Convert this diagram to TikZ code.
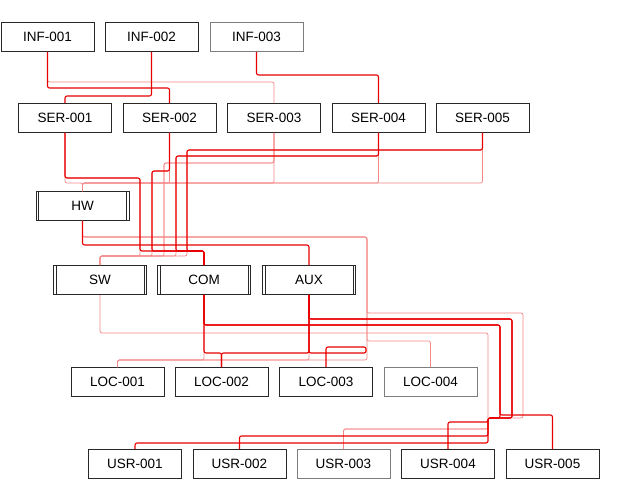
\documentclass[tikz,border=0pt]{standalone}
\usepackage{fontspec}
\setmainfont{Liberation Sans}
\definecolor{linkcolor0001}{RGB}{232,0,0}
\definecolor{linkcolor0002}{RGB}{245,135,135}
\definecolor{boxcolor0001}{RGB}{40,40,40}
\definecolor{boxcolor0002}{RGB}{125,125,125}

\begin{document}
\begin{tikzpicture}[yscale=-1
,box/.style={draw=boxcolor0001,fill=white,line width=0.9pt,minimum width=93pt,minimum height=29pt,inner sep=0pt,font=\fontsize{13.5}{15}\selectfont}
,greybox/.style={box,draw=boxcolor0002}
,sysbox/.style={box,path picture={
  \draw[boxcolor0001,line width=0.8pt] ([xshift=2.5pt]path picture bounding box.north west) -- ([xshift=2.5pt]path picture bounding box.south west);
  \draw[boxcolor0001,line width=0.8pt] ([xshift=-2.5pt]path picture bounding box.north east) -- ([xshift=-2.5pt]path picture bounding box.south east);}}
,lnmain/.style={color=linkcolor0001,line width=1.1pt,rounded corners=2pt}
,lnweak/.style={color=linkcolor0002,line width=0.7pt,rounded corners=2pt}
]
\useasboundingbox (0pt,0pt) rectangle (634pt,483pt);
% nodes
\node[box] (inf1) at (47.5pt,37pt) {INF-001};
\node[box] (inf2) at (151.5pt,37pt) {INF-002};
\node[greybox] (inf3) at (256.5pt,37pt) {INF-003};
\node[box] (ser1) at (65pt,118pt) {SER-001};
\node[box] (ser2) at (169.5pt,118pt) {SER-002};
\node[box] (ser3) at (274pt,118pt) {SER-003};
\node[box] (ser4) at (378.5pt,118pt) {SER-004};
\node[box] (ser5) at (482.5pt,118pt) {SER-005};
\node[sysbox] (hw) at (82.5pt,206pt) {HW};
\node[sysbox] (sw) at (100pt,280pt) {SW};
\node[sysbox] (com) at (204pt,280pt) {COM};
\node[sysbox] (aux) at (309pt,280pt) {AUX};
\node[box] (loc1) at (117.5pt,382pt) {LOC-001};
\node[box] (loc2) at (221.5pt,382pt) {LOC-002};
\node[box] (loc3) at (326pt,382pt) {LOC-003};
\node[greybox] (loc4) at (430.5pt,382pt) {LOC-004};
\node[box] (usr1) at (135pt,464pt) {USR-001};
\node[box] (usr2) at (239.5pt,464pt) {USR-002};
\node[greybox] (usr3) at (343.5pt,464pt) {USR-003};
\node[box] (usr4) at (448pt,464pt) {USR-004};
\node[box] (usr5) at (552.5pt,464pt) {USR-005};
% weak links
\draw[lnweak] (inf1.south) |- (ser3.north |- 0,82pt) -- (ser3.north);
\foreach \s in {ser1,ser2,ser3,ser4,ser5}
  \draw[lnweak] (\s.south) |- (hw.north |- 0,183pt) -- (hw.north);
\foreach \s/\bx/\ly in {ser1/140/178,ser2/152/171,ser3/164/163,ser4/176/156,ser5/187/150}
  \draw[lnweak] (\s.south) |- (\bx pt,\ly pt) |- (sw.north |- 0,256pt) -- (sw.north);
\draw[lnweak] (ser3.south) |- (164pt,163pt) |- (com.north |- 0,251pt) -- (com.north);
\draw[lnweak] (hw.south) |- (367pt,237pt) |- (loc4.north |- 0,341pt) -- (loc4.north);
\draw[lnweak] (hw.south) |- (367pt,237pt) |- (loc1.north |- 0,360pt) -- (loc1.north);
\draw[lnweak] (hw.south) |- (367pt,237pt) |- (523pt,313pt) |- (488pt,418pt) |- (usr3.north |- 0,429pt) -- (usr3.north);
\draw[lnweak] (com.south) |- (loc1.north |- 0,360pt) -- (loc1.north);
\draw[lnweak] (aux.south) |- (loc1.north |- 0,360pt) -- (loc1.north);
\draw[lnweak] (sw.south) |- (488pt,333pt) |- (usr3.north |- 0,429pt) -- (usr3.north);
% main links
\draw[lnmain] (inf1.south) |- (ser2.north |- 0,88pt) -- (ser2.north);
\draw[lnmain] (inf2.south) |- (ser1.north |- 0,96pt) -- (ser1.north);
\draw[lnmain] (inf3.south) |- (ser4.north |- 0,75pt) -- (ser4.north);
\foreach \s/\bx/\ly in {ser1/140/178,ser2/152/171,ser4/176/156,ser5/187/150}
  \draw[lnmain] (\s.south) |- (\bx pt,\ly pt) |- (com.north |- 0,251pt) -- (com.north);
\draw[lnmain] (hw.south) |- (aux.north |- 0,245pt) -- (aux.north);
\draw[lnmain] (com.south) |- (loc2.north |- 0,353pt) -- (loc2.north);
\draw[lnmain] (aux.south) |- (loc2.north |- 0,353pt) -- (loc2.north);
\draw[lnmain] (aux.south) |- (366pt,353pt) |- (loc3.north |- 0,347pt) -- (loc3.north);
\draw[lnmain] (com.south) |- (500pt,325pt) |- (488pt,418pt) |- (usr1.north |- 0,443pt) -- (usr1.north);
\draw[lnmain] (com.south) |- (500pt,325pt) |- (usr5.north |- 0,415pt) -- (usr5.north);
\draw[lnmain] (aux.south) |- (512pt,319pt) |- (488pt,418pt) |- (usr2.north |- 0,436pt) -- (usr2.north);
\draw[lnmain] (aux.south) |- (512pt,319pt) |- (488pt,418pt) |- (usr4.north |- 0,422pt) -- (usr4.north);
\end{tikzpicture}
\end{document}
